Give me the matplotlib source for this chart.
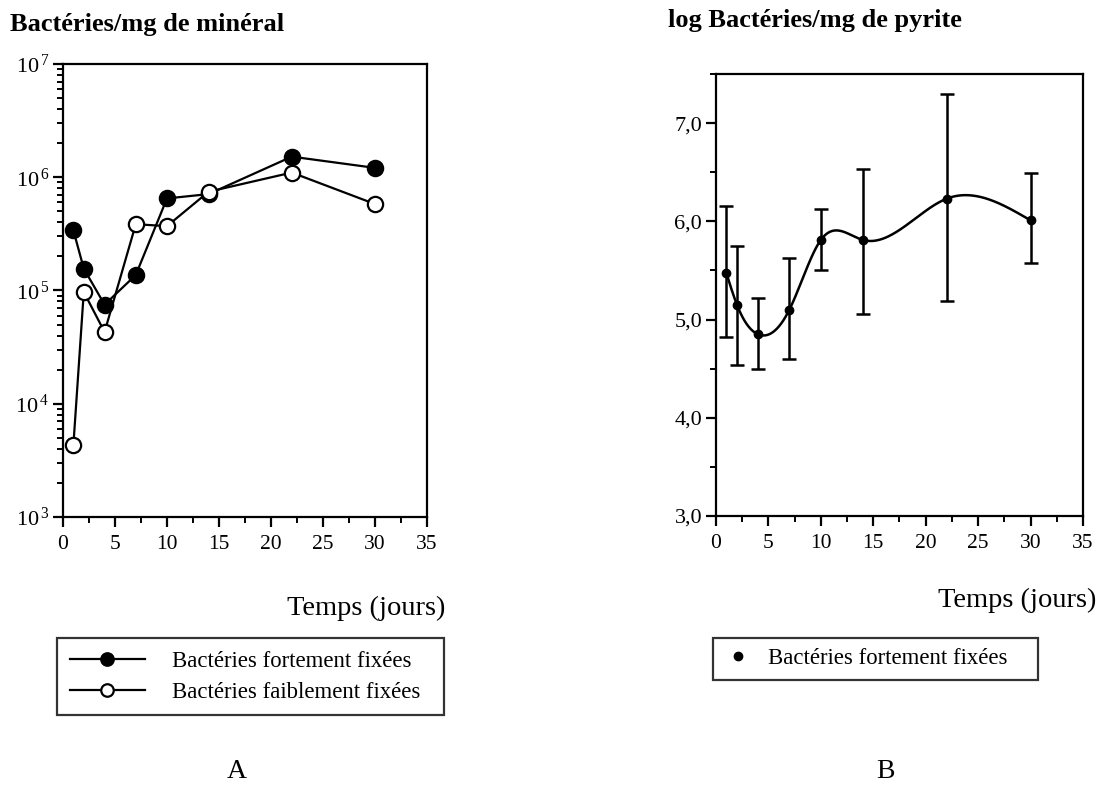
import numpy as np
import matplotlib
matplotlib.use("Agg")
import matplotlib.pyplot as plt
from matplotlib.ticker import FixedLocator, FuncFormatter, MultipleLocator, LogLocator, NullFormatter

plt.rcParams['font.family'] = ['Liberation Serif', 'DejaVu Serif']
plt.rcParams['mathtext.fontset'] = 'custom'
plt.rcParams['mathtext.rm'] = 'Liberation Serif'
plt.rcParams['mathtext.it'] = 'Liberation Serif:italic'

# ---- data panel A ----
jours = [1, 2, 4, 7, 10, 14, 22, 30]
fortement = [3.4e5, 1.56e5, 7.5e4, 1.37e5, 6.5e5, 7.1e5, 1.52e6, 1.21e6]
faiblement = [4.3e3, 9.7e4, 4.3e4, 3.85e5, 3.7e5, 7.45e5, 1.1e6, 5.8e5]

# ---- data panel B ----
log_pyrite = [5.47, 5.15, 4.85, 5.10, 5.81, 5.81, 6.23, 6.01]
err_haut = [6.16, 5.75, 5.22, 5.63, 6.13, 6.53, 7.30, 6.49]
err_bas = [4.82, 4.54, 4.50, 4.60, 5.50, 5.06, 5.19, 5.58]

xticks = [0, 5, 10, 15, 20, 25, 30, 35]


#--------------------------------------------------------------------------#
def natural_spline(x, y, n=300):
    # natural cubic spline, only used to draw the smooth line
    x = np.asarray(x, float); y = np.asarray(y, float)
    k = len(x)
    h = np.diff(x)
    A = np.zeros((k, k)); r = np.zeros(k)
    A[0, 0] = 1; A[-1, -1] = 1
    for i in range(1, k - 1):
        A[i, i - 1] = h[i - 1]
        A[i, i] = 2 * (h[i - 1] + h[i])
        A[i, i + 1] = h[i]
        r[i] = 6 * ((y[i + 1] - y[i]) / h[i] - (y[i] - y[i - 1]) / h[i - 1])
    M = np.linalg.solve(A, r)
    xs = np.linspace(x[0], x[-1], n)
    ys = np.empty_like(xs)
    for j, t in enumerate(xs):
        i = min(np.searchsorted(x, t, side='right') - 1, k - 2)
        a = x[i + 1] - t; b = t - x[i]
        ys[j] = (M[i] * a**3 + M[i + 1] * b**3) / (6 * h[i]) \
            + (y[i] / h[i] - M[i] * h[i] / 6) * a \
            + (y[i + 1] / h[i] - M[i + 1] * h[i] / 6) * b
    return xs, ys


def style_axes(ax):
    for s in ax.spines.values():
        s.set_linewidth(1.6)
    ax.tick_params(which='major', direction='out', length=7, width=1.6,
                   labelsize=15.5, pad=6)
    ax.tick_params(which='minor', direction='out', length=4, width=1.4)
    ax.set_xlim(0, 35)
    ax.xaxis.set_major_locator(FixedLocator(xticks))
    ax.xaxis.set_minor_locator(MultipleLocator(2.5))


fig = plt.figure(figsize=(11.01, 7.91), dpi=100)

# ---- panel A ----
axA = fig.add_axes([0.0572, 0.3464, 0.3306, 0.5727])
style_axes(axA)
axA.set_yscale('log')
axA.set_ylim(1e3, 1e7)
axA.yaxis.set_major_locator(LogLocator(base=10, numticks=10))
axA.yaxis.set_minor_locator(LogLocator(base=10, subs=np.arange(2, 10), numticks=10))
axA.yaxis.set_minor_formatter(NullFormatter())
axA.yaxis.set_major_formatter(FuncFormatter(lambda v, p: r"10$^{\,%d}$" % round(np.log10(v))))
axA.tick_params(axis='y', which='major', labelsize=16, pad=3)
axA.plot(jours, fortement, '-o', color='black', lw=1.6, ms=11,
         mfc='black', mec='black', mew=1.6, label='Bactéries fortement fixées')
axA.plot(jours, faiblement, '-o', color='black', lw=1.6, ms=11,
         mfc='white', mec='black', mew=1.6, label='Bactéries faiblement fixées')
fig.text(10 / 1101, 1 - 24 / 791, "Bactéries/mg de minéral", fontsize=19, fontweight='bold',
         ha='left', va='center')
fig.text(445 / 1101, 1 - 615 / 791, "Temps (jours)", fontsize=20.5, ha='right', va='baseline')
legA = axA.legend(loc='upper left', bbox_to_anchor=(57 / 1101, 1 - 638 / 791, 387 / 1101, 0.0),
                  bbox_transform=fig.transFigure, mode='expand', fancybox=False,
                  edgecolor='black', fontsize=16.4, handlelength=3.3, handletextpad=1.2,
                  borderpad=0.55, labelspacing=0.45, borderaxespad=0)
legA.get_frame().set_linewidth(1.6)
for ln in legA.get_lines():
    ln.set_markersize(9)

# ---- panel B ----
axB = fig.add_axes([0.6503, 0.3477, 0.3333, 0.5588])
style_axes(axB)
axB.set_ylim(3.0, 7.5)
axB.yaxis.set_major_locator(FixedLocator([3, 4, 5, 6, 7]))
axB.yaxis.set_minor_locator(MultipleLocator(0.5))
axB.yaxis.set_major_formatter(FuncFormatter(lambda v, p: ("%.1f" % v).replace('.', ',')))
axB.tick_params(axis='y', which='major', labelsize=16, pad=3)
xs, ys = natural_spline(jours, log_pyrite)
axB.plot(xs, ys, color='black', lw=1.8)
yerr = [np.array(log_pyrite) - np.array(err_bas), np.array(err_haut) - np.array(log_pyrite)]
axB.errorbar(jours, log_pyrite, yerr=yerr, fmt='o', color='black', ms=6,
             elinewidth=1.8, capsize=5, capthick=1.8, label='Bactéries fortement fixées')
fig.text(668 / 1101, 1 - 21 / 791, "log Bactéries/mg de pyrite", fontsize=19,
         fontweight='bold', ha='left', va='center')
fig.text(1096 / 1101, 1 - 607 / 791, "Temps (jours)", fontsize=20.5, ha='right', va='baseline')
hB, = axB.plot([], [], 'o', color='black', ms=6)
legB = axB.legend([hB], ['Bactéries fortement fixées'], loc='upper left',
                  bbox_to_anchor=(713 / 1101, 1 - 638 / 791, 325 / 1101, 0.0),
                  bbox_transform=fig.transFigure, mode='expand', fancybox=False,
                  edgecolor='black', fontsize=16.4, handlelength=1.3, handletextpad=0.65,
                  borderpad=0.45, borderaxespad=0)
legB.get_frame().set_linewidth(1.6)

fig.text(237 / 1101, 1 - 771 / 791, "A", fontsize=20, ha='center', va='center')
fig.text(885 / 1101, 1 - 771 / 791, "B", fontsize=20, ha='center', va='center')

fig.savefig("out.png", dpi=100)
print("done")
